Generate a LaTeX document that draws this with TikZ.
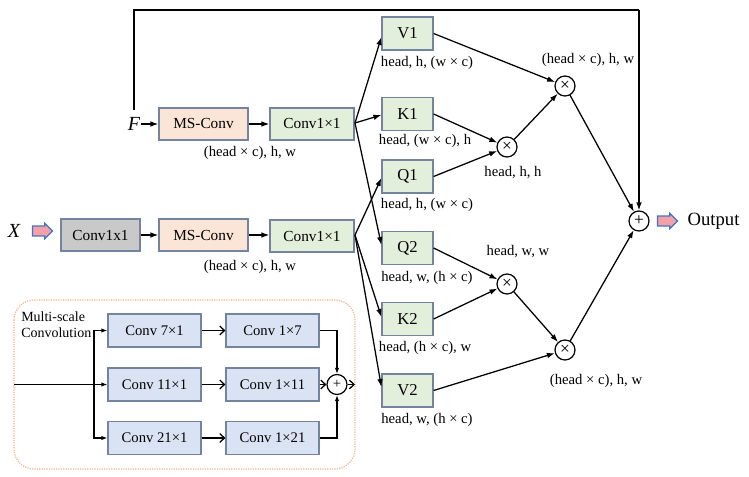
\documentclass[tikz,border=0pt]{standalone}
\usepackage{fontspec}
\setmainfont{Liberation Serif}
\usetikzlibrary{arrows.meta,shapes.arrows,calc}
\definecolor{bord}{HTML}{7484A0}
\definecolor{greenf}{HTML}{E2EFDA}
\definecolor{peachf}{HTML}{FBE5D6}
\definecolor{grayf}{HTML}{C9C9C9}
\definecolor{bluef}{HTML}{DAE3F3}
\definecolor{pinkf}{HTML}{F2A1A8}
\definecolor{arrb}{HTML}{4472C4}
\definecolor{orangeb}{HTML}{F4B183}
\begin{document}
\begin{tikzpicture}[x=0.75pt,y=-0.75pt,
  every node/.style={inner sep=1pt},
  boxb/.style={draw=bord,line width=0.9pt,inner sep=0pt,font=\fontsize{11.5}{13}\selectfont},
  gbox/.style={boxb,fill=greenf,minimum width=63pt,minimum height=24pt},
  pbox/.style={boxb,fill=peachf,minimum width=66.75pt,minimum height=24pt},
  cbox/.style={boxb,fill=grayf,minimum width=59.25pt,minimum height=24pt},
  qkv/.style={boxb,fill=greenf,minimum width=38.25pt,minimum height=24.75pt,font=\fontsize{12.5}{14}\selectfont},
  bbox/.style={boxb,fill=bluef,minimum width=69.75pt,minimum height=24.75pt,font=\fontsize{11}{13}\selectfont},
  op/.style={draw,circle,line width=0.9pt,minimum size=15pt,inner sep=0pt,font=\fontsize{13}{14}\selectfont},
  lbl/.style={font=\fontsize{11}{13}\selectfont},
  conn/.style={line width=0.95pt,-{Latex[length=6pt,width=4.2pt]}},
  sconn/.style={line width=0.95pt,-{Latex[length=4.5pt,width=3.3pt]}},
  oconn/.style={line width=0.95pt,-{Straight Barb[length=3.5pt,width=6.5pt]}},
  pinkarrow/.style={single arrow,draw=arrb,fill=pinkf,line width=0.9pt,minimum height=15pt,minimum width=11.5pt,single arrow head extend=2pt,inner xsep=0pt,inner ysep=3.2pt}
]
\useasboundingbox (0,0) rectangle (749,477);

% top branch
\node[font=\itshape\fontsize{15}{17}\selectfont,inner sep=0.5pt] (F) at (134,124) {F};
\node[pbox] (msT) at (203.5,124) {MS-Conv};
\node[gbox] (convT) at (312,124) {Conv1×1};
\node[lbl] (lblT) at (250,153) {(head × c), h, w};

% bottom branch
\node[font=\itshape\fontsize{15}{17}\selectfont] (X) at (14,231) {X};
\node[pinkarrow] (xarr) at (40,231) {};
\node[cbox] (gray) at (100.5,235) {Conv1x1};
\node[pbox] (msB) at (203.5,235) {MS-Conv};
\node[gbox] (convB) at (312,236) {Conv1×1};
\node[lbl] (lblB) at (250,267) {(head × c), h, w};

% QKV
\node[qkv] (V1) at (407.5,33.5) {V1};
\node[qkv] (K1) at (407.5,114) {K1};
\node[qkv] (Q1) at (407.5,176.5) {Q1};
\node[qkv] (Q2) at (407.5,248) {Q2};
\node[qkv] (K2) at (407.5,319) {K2};
\node[qkv] (V2) at (407.5,390.5) {V2};
\node[lbl] (lV1) at (427,63) {head, h, (w × c)};
\node[lbl] (lK1) at (425,141) {head, (w × c), h};
\node[lbl] (lQ1) at (427,205) {head, h, (w × c)};
\node[lbl] (lQ2) at (427,278) {head, w, (h × c)};
\node[lbl] (lK2) at (425,348) {head, (h × c), w};
\node[lbl] (lV2) at (427,420) {head, w, (h × c)};

% operators
\node[op] (m1) at (507,147) {×};
\node[op] (m2) at (565,86) {×};
\node[op] (m3) at (507,284) {×};
\node[op] (m4) at (565,350) {×};
\node[op] (pl) at (639,221) {+};
\node[lbl] (lm1) at (513,173) {head, h, h};
\node[lbl] (lm2) at (588,60) {(head × c), h, w};
\node[lbl] (lm3) at (518,252) {head, w, w};
\node[lbl] (lm4) at (596,381) {(head × c), h, w};
\node[pinkarrow] (oarr) at (665,221) {};
\node[font=\fontsize{14}{16}\selectfont,anchor=west] (out) at (686,221) {Output};

% connectors top/bottom
\draw[conn] (F) -- (msT);
\draw[conn] (msT) -- (convT);
\draw[conn] (gray) -- (msB);
\draw[conn] (msB) -- (convB.west|-msB);
\coordinate (topL) at (134,10);
\coordinate (topR) at (639,10);
\draw[line width=0.95pt] ($(F.north)+(0,-7)$) -- (topL) -- (topR);
\draw[conn] (topR) -- (pl.north);

\coordinate (cT) at (355,123);
\coordinate (cB) at (355,235);
\draw[conn] (cT) -- ($(V1.west)+(0,3.5)$);
\draw[conn] (cT) -- ($(K1.west)+(0,1)$);
\draw[conn] (cT) -- ($(Q2.west)+(0,-3)$);
\draw[conn] (cB) -- ($(Q1.west)+(0,1.5)$);
\draw[conn] (cB) -- ($(K2.west)+(0,-2)$);
\draw[conn] (cB) -- ($(V2.west)+(0,-3.5)$);

\draw[conn] (K1.east) -- (m1);
\draw[conn] (Q1.east) -- (m1);
\draw[conn] (m1) -- (m2);
\draw[conn] (V1.east) -- (m2);
\draw[conn] (m2) -- (pl);
\draw[conn] (Q2.east) -- (m3);
\draw[conn] (K2.east) -- (m3);
\draw[conn] (m3) -- (m4);
\draw[conn] (V2.east) -- (m4);
\draw[conn] (m4) -- (pl);

% multi-scale convolution
\draw[orangeb,line width=0.9pt,dash pattern=on 0.9pt off 0.9pt,rounded corners=15pt] (14,300) rectangle (355,469);
\node[font=\fontsize{10.5}{12}\selectfont,anchor=west,inner sep=0pt] (ms1) at (21,317) {Multi-scale};
\node[font=\fontsize{10.5}{12}\selectfont,anchor=west,inner sep=0pt] (ms2) at (21,333) {Convolution};
\node[bbox] (c71) at (154.5,330.5) {Conv 7×1};
\node[bbox] (c17) at (272.5,330.5) {Conv 1×7};
\node[bbox] (c111) at (154.5,384.5) {Conv 11×1};
\node[bbox] (c111b) at (272.5,384.5) {Conv 1×11};
\node[bbox] (c211) at (154.5,438) {Conv 21×1};
\node[bbox] (c121) at (272.5,438) {Conv 1×21};
\node[op,font=\fontsize{11}{12}\selectfont] (pms) at (337,384.5) {+};
\coordinate (min) at (14,384.5);
\coordinate (sp) at (94,384.5);
\coordinate (mout) at (355,384.5);
\draw[sconn] (min) -- (c111);
\draw[sconn] (sp) |- (c71);
\draw[sconn] (sp) |- (c211);
\draw[oconn] (c71) -- (c17);
\draw[oconn] (c111) -- (c111b);
\draw[oconn] (c211) -- (c121);
\draw[sconn] (c17.east) -| (pms.north);
\draw[sconn] (c121.east) -| (pms.south);
\draw[oconn] (c111b) -- (pms);
\draw[oconn] (pms) -- (mout);
\end{tikzpicture}
\end{document}
